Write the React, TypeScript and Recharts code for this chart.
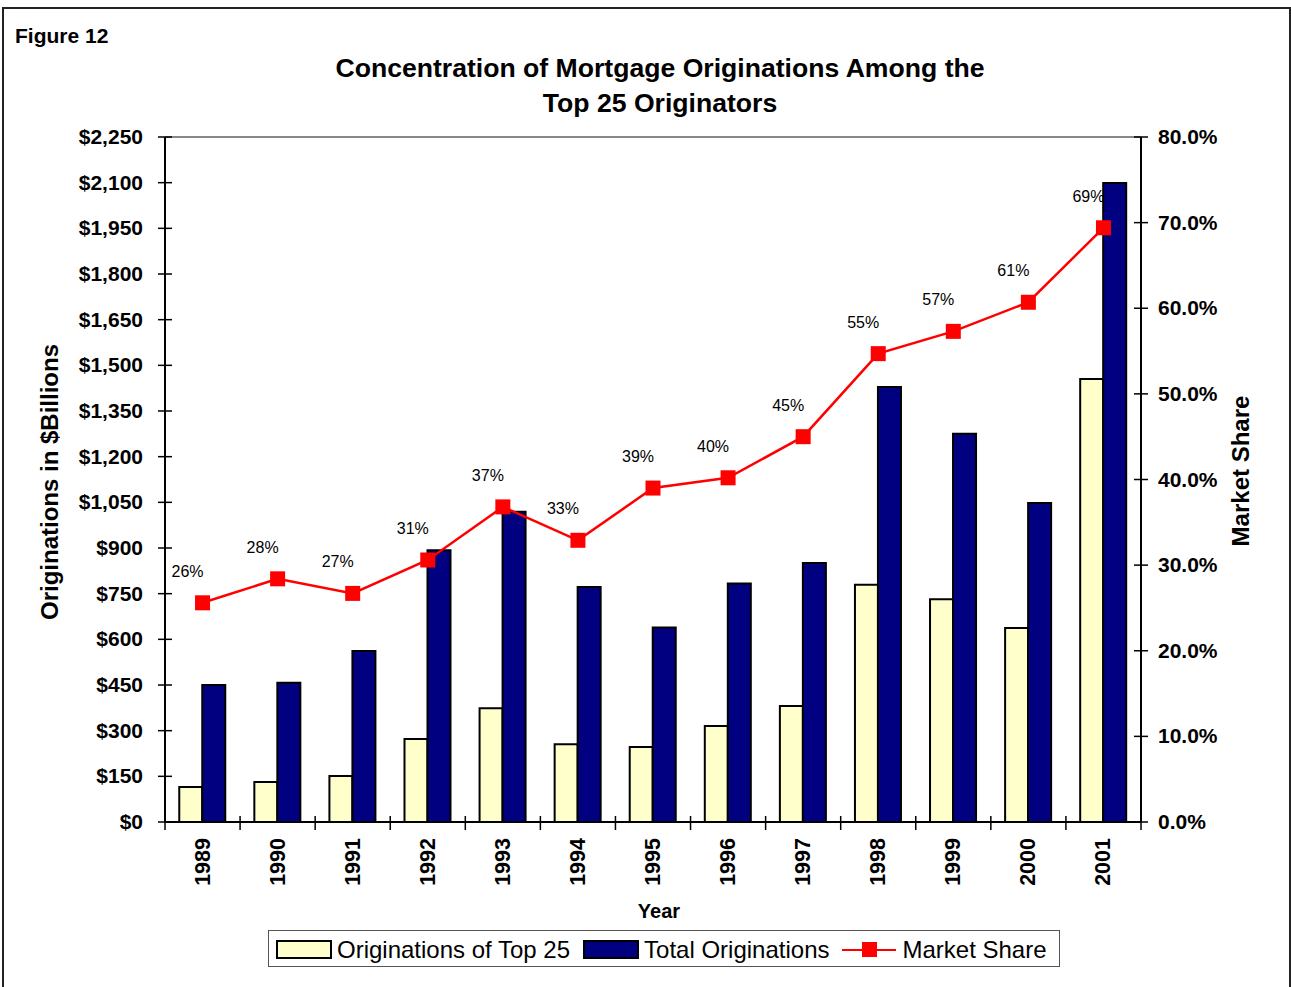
import React from 'react';
import { ComposedChart, Bar, Line, XAxis, YAxis, ReferenceLine, LabelList } from 'recharts';

const years = ['1989', '1990', '1991', '1992', '1993', '1994', '1995', '1996', '1997', '1998', '1999', '2000', '2001'];
const top25Originations = [115, 131, 151, 273, 374, 255, 246, 315, 381, 779, 732, 637, 1455];
const totalOriginations = [450, 457, 562, 893, 1019, 772, 639, 783, 851, 1429, 1275, 1048, 2099];
const marketShare = [25.6, 28.4, 26.7, 30.6, 36.8, 32.9, 39.0, 40.2, 45.0, 54.7, 57.3, 60.7, 69.4];

const leftTicks = [0, 150, 300, 450, 600, 750, 900, 1050, 1200, 1350, 1500, 1650, 1800, 1950, 2100, 2250];
const rightTicks = [0, 10, 20, 30, 40, 50, 60, 70, 80];

const data = years.map((year, i) => ({
  year,
  top25: top25Originations[i],
  total: totalOriginations[i],
  share: marketShare[i],
}));

const FONT = '"Liberation Sans", Arial, sans-serif';
const W = 1291;
const H = 987;
const MARGIN = { top: 137, right: 50, bottom: 85, left: 65 };
const Y_WIDTH = 100;
const PLOT_LEFT = MARGIN.left + Y_WIDTH;
const PLOT_RIGHT = W - MARGIN.right - Y_WIDTH;
const BAND = (PLOT_RIGHT - PLOT_LEFT) / years.length;

const fmtDollar = (v: number) => `$${v.toLocaleString('en-US')}`;
const fmtPct = (v: number) => `${v.toFixed(1)}%`;

const LeftTick = (props: any) => {
  const { x, y, payload } = props;
  const ax = x + 22;
  return (
    <g>
      <line x1={ax - 7} x2={ax + 7} y1={y} y2={y} stroke="#000" strokeWidth={1.5} />
      <text x={x} y={y} dy={7} textAnchor="end" fontFamily={FONT} fontWeight="bold" fontSize={21} fill="#000">
        {fmtDollar(payload.value)}
      </text>
    </g>
  );
};

const RightTick = (props: any) => {
  const { x, y, payload } = props;
  const ax = x - 17;
  return (
    <g>
      <line x1={ax - 7} x2={ax + 7} y1={y} y2={y} stroke="#000" strokeWidth={1.5} />
      <text x={x} y={y} dy={7} textAnchor="start" fontFamily={FONT} fontWeight="bold" fontSize={21} fill="#000">
        {fmtPct(payload.value)}
      </text>
    </g>
  );
};

const YearTick = (props: any) => {
  const { x, y, payload, index } = props;
  const ay = y - 16;
  const left = x - BAND / 2;
  const right = x + BAND / 2;
  return (
    <g>
      <line x1={left} x2={left} y1={ay - 6} y2={ay + 8} stroke="#000" strokeWidth={1.5} />
      {index === years.length - 1 && (
        <line x1={right} x2={right} y1={ay - 6} y2={ay + 8} stroke="#000" strokeWidth={1.5} />
      )}
      <text
        x={x}
        y={y}
        dy={7}
        transform={`rotate(-90, ${x}, ${y})`}
        textAnchor="end"
        fontFamily={FONT}
        fontWeight="bold"
        fontSize={21.5}
        fill="#000"
      >
        {payload.value}
      </text>
    </g>
  );
};

const SquareDot = (props: any) => {
  const { cx, cy } = props;
  if (cx == null || cy == null) return null;
  return <rect x={cx - 7.5} y={cy - 7.5} width={15} height={15} fill="#FF0000" />;
};

const ShareLabel = (props: any) => {
  const { x, y, value } = props;
  return (
    <text x={x - 15} y={y - 26} textAnchor="middle" fontFamily={FONT} fontSize={16} fill="#000">
      {`${Math.round(value)}%`}
    </text>
  );
};

const swatch = (fill: string) => (
  <span
    style={{
      display: 'inline-block',
      width: 52,
      height: 15,
      background: fill,
      border: '2px solid #000',
      boxSizing: 'content-box',
      marginRight: 5,
    }}
  />
);

const App: React.FC = () => {
  return (
    <div style={{ position: 'absolute', left: 0, top: 0, width: W, height: H, background: '#fff', overflow: 'hidden' }}>
      <div
        style={{
          position: 'absolute',
          left: 2,
          top: 7,
          width: 1285,
          height: 1000,
          border: '2px solid #222',
        }}
      />
      <div style={{ position: 'absolute', left: 0, top: 0 }}>
        <ComposedChart width={W} height={H} data={data} margin={MARGIN} barCategoryGap="19%" barGap={0}>
          <XAxis
            dataKey="year"
            height={80}
            tickSize={0}
            tickMargin={16}
            tickLine={false}
            axisLine={{ stroke: '#000', strokeWidth: 2 }}
            tick={<YearTick />}
            interval={0}
          />
          <YAxis
            yAxisId="left"
            orientation="left"
            width={Y_WIDTH}
            domain={[0, 2250]}
            ticks={leftTicks}
            interval={0}
            tickSize={0}
            tickMargin={22}
            tickLine={false}
            axisLine={{ stroke: '#000', strokeWidth: 2 }}
            tick={<LeftTick />}
          />
          <YAxis
            yAxisId="right"
            orientation="right"
            width={Y_WIDTH}
            domain={[0, 80]}
            ticks={rightTicks}
            interval={0}
            tickSize={0}
            tickMargin={17}
            tickLine={false}
            axisLine={{ stroke: '#000', strokeWidth: 2 }}
            tick={<RightTick />}
          />
          <ReferenceLine yAxisId="left" y={2250} stroke="#888" strokeWidth={2} />
          <Bar yAxisId="left" dataKey="top25" fill="#FFFFCC" stroke="#000" strokeWidth={2} isAnimationActive={false} />
          <Bar yAxisId="left" dataKey="total" fill="#000080" stroke="#000" strokeWidth={2} isAnimationActive={false} />
          <Line
            yAxisId="right"
            dataKey="share"
            type="linear"
            stroke="#FF0000"
            strokeWidth={2.5}
            dot={<SquareDot />}
            activeDot={false}
            isAnimationActive={false}
          >
            <LabelList dataKey="share" content={<ShareLabel />} />
          </Line>
        </ComposedChart>
      </div>
      <svg width={W} height={H} style={{ position: 'absolute', left: 0, top: 0, pointerEvents: 'none' }}>
        <text x={15} y={43} fontFamily={FONT} fontWeight="bold" fontSize={21} fill="#000">
          Figure 12
        </text>
        <text x={660} y={77} textAnchor="middle" fontFamily={FONT} fontWeight="bold" fontSize={26.6} fill="#000">
          Concentration of Mortgage Originations Among the
        </text>
        <text x={660} y={112} textAnchor="middle" fontFamily={FONT} fontWeight="bold" fontSize={26.6} fill="#000">
          Top 25 Originators
        </text>
        <text
          x={58}
          y={482}
          transform="rotate(-90, 58, 482)"
          textAnchor="middle"
          fontFamily={FONT}
          fontWeight="bold"
          fontSize={24}
          fill="#000"
        >
          Originations in $Billions
        </text>
        <text
          x={1249}
          y={471}
          transform="rotate(-90, 1249, 471)"
          textAnchor="middle"
          fontFamily={FONT}
          fontWeight="bold"
          fontSize={24}
          fill="#000"
        >
          Market Share
        </text>
        <text x={659} y={918} textAnchor="middle" fontFamily={FONT} fontWeight="bold" fontSize={20} fill="#000">
          Year
        </text>
      </svg>
      <div
        style={{
          position: 'absolute',
          left: 268,
          top: 930,
          width: 792,
          height: 37,
          border: '1.5px solid #555',
          display: 'flex',
          alignItems: 'center',
          paddingLeft: 7,
          paddingTop: 2,
          boxSizing: 'border-box',
          fontFamily: FONT,
          fontSize: 24,
          color: '#000',
          whiteSpace: 'nowrap',
        }}
      >
        {swatch('#FFFFCC')}
        <span style={{ marginRight: 13 }}>Originations of Top 25</span>
        {swatch('#000080')}
        <span style={{ marginRight: 13 }}>Total Originations</span>
        <span style={{ position: 'relative', display: 'inline-block', width: 54, height: 16, marginRight: 6 }}>
          <span style={{ position: 'absolute', left: 0, top: 7, width: 54, height: 2.5, background: '#FF0000' }} />
          <span style={{ position: 'absolute', left: 20, top: 0, width: 15, height: 15, background: '#FF0000' }} />
        </span>
        <span>Market Share</span>
      </div>
    </div>
  );
};

export default App;
